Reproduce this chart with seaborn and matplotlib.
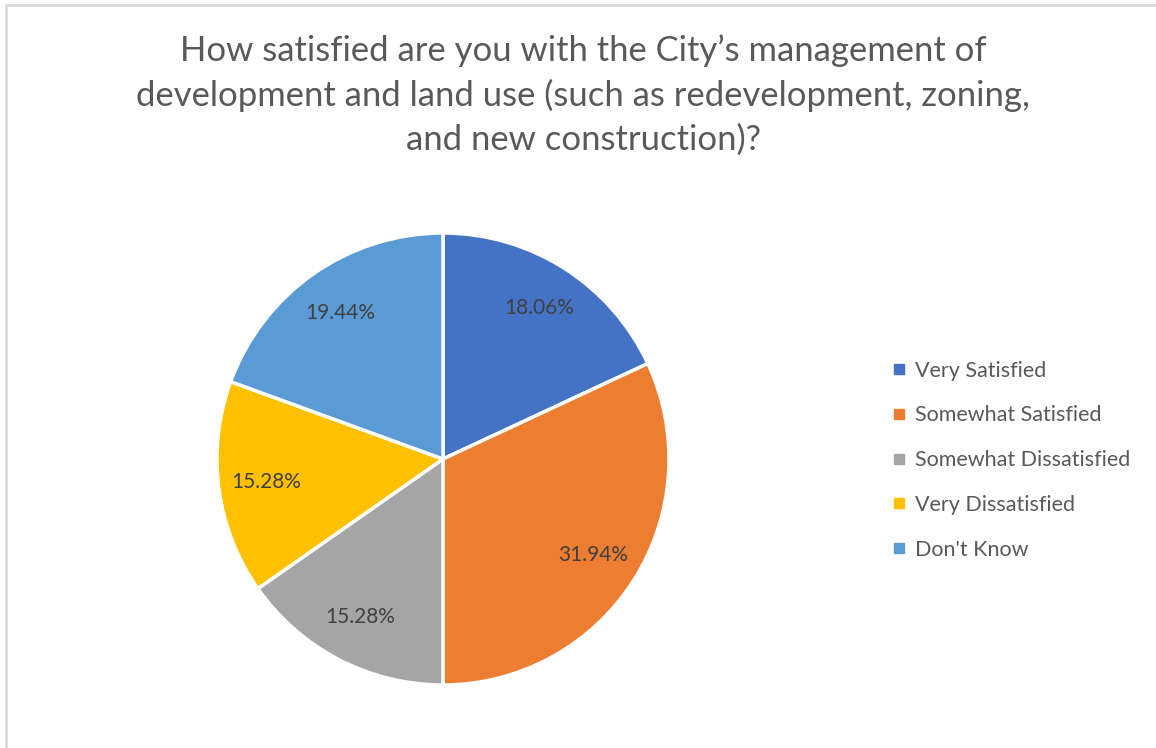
import matplotlib
matplotlib.use("Agg")
import matplotlib.pyplot as plt
import seaborn as sns
from matplotlib.lines import Line2D

# survey answers and their shares (%)
categories = ["Very Satisfied", "Somewhat Satisfied", "Somewhat Dissatisfied",
              "Very Dissatisfied", "Don't Know"]
shares = [18.06, 31.94, 15.28, 15.28, 19.44]
colors = ["#4472C4", "#ED7D31", "#A5A5A5", "#FFC000", "#5B9BD5"]

title = ("How satisfied are you with the City\u2019s management of\n"
         "development and land use (such as redevelopment, zoning,\n"
         "and new construction)?")

sns.set_theme(style="white")
plt.rcParams["font.family"] = ["Lato", "DejaVu Sans"]

W, H = 1156, 748
fig = plt.figure(figsize=(W / 100, H / 100), dpi=100)

# pie axes: centre (443, 459) px, radius 226 px
cx, cy, r = 443, 459, 226
ax = fig.add_axes([(cx - r) / W, (H - cy - r) / H, 2 * r / W, 2 * r / H])
wedges, _, autotexts = ax.pie(
    shares, colors=colors, startangle=90, counterclock=False,
    autopct="%.2f%%", pctdistance=0.79,
    wedgeprops=dict(edgecolor="white", linewidth=2.5),
    textprops=dict(color="#404040", fontsize=15),
)
ax.set_xlim(-1.0, 1.0)
ax.set_ylim(-1.0, 1.0)
ax.set_aspect("equal")
ax.axis("off")

fig.text(583 / W, 1 - 95 / H, title, ha="center", va="center",
         fontsize=24.9, color="#595959", linespacing=1.45)

handles = [Line2D([0], [0], marker="s", linestyle="", markersize=6.5,
                  markerfacecolor=c, markeredgecolor=c) for c in colors]
fig.legend(handles, categories, loc="upper left",
           bbox_to_anchor=(879 / W, 1 - 352 / H), frameon=False,
           fontsize=15.5, labelcolor="#595959", handletextpad=0.15,
           labelspacing=1.15, borderaxespad=0, handlelength=1.1)

# light frame around the chart (top and left edges visible)
fig.add_artist(Line2D([6 / W, 6 / W, 1], [0, 1 - 4.5 / H, 1 - 4.5 / H],
                      color="#D9D9D9", linewidth=2, transform=fig.transFigure))

fig.savefig("out.png", dpi=100, facecolor="white")
